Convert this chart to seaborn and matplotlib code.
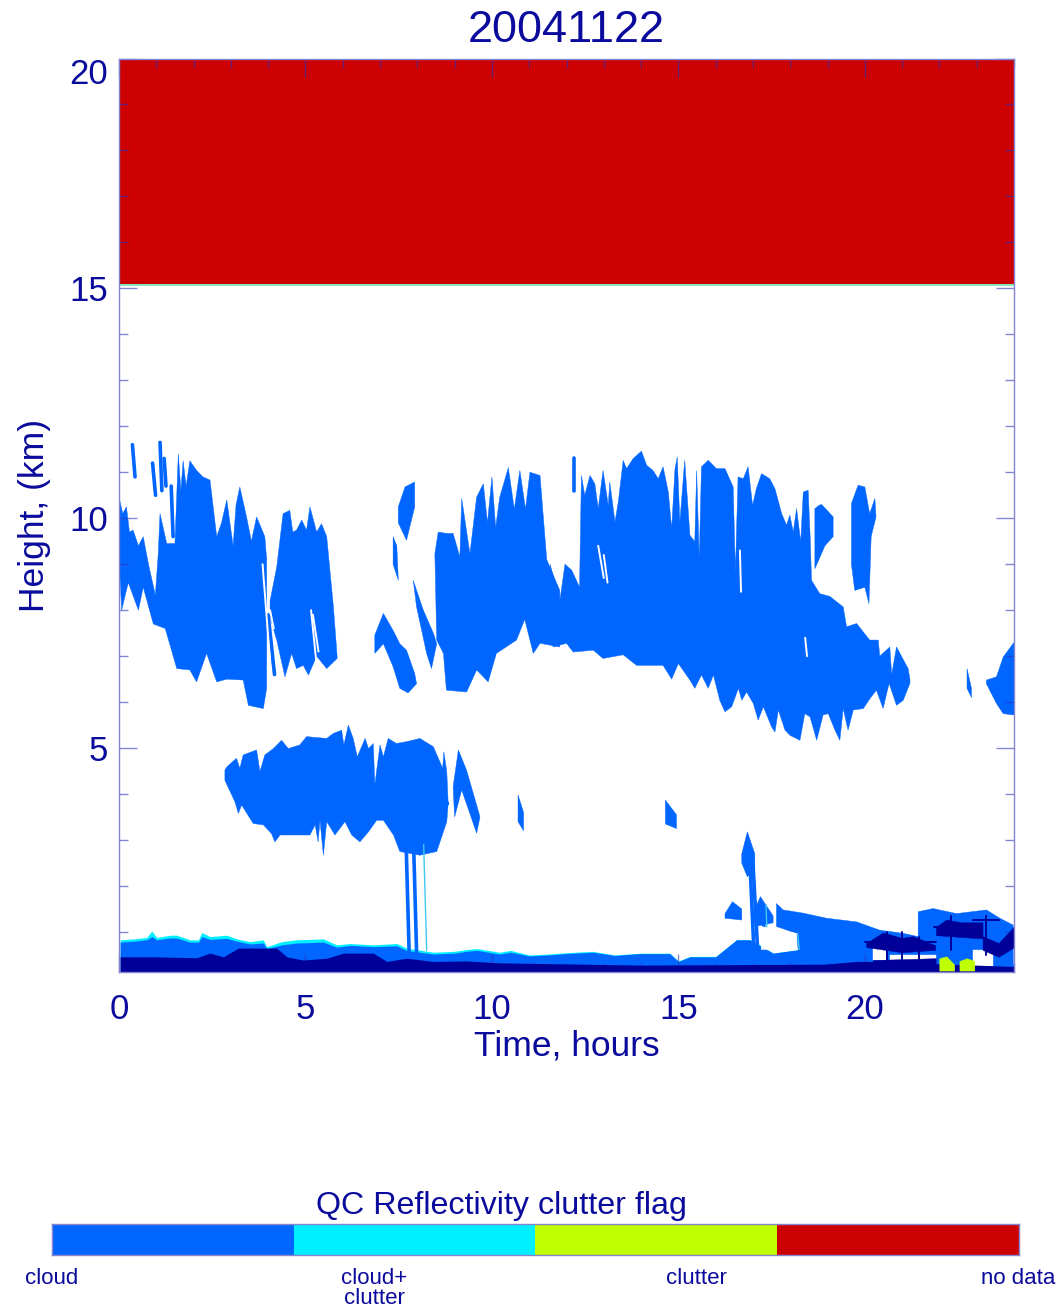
import numpy as np
import seaborn as sns
import matplotlib.pyplot as plt
from matplotlib.colors import ListedColormap

# flag legend
flag_names = ['cloud', 'cloud+\nclutter', 'clutter', 'no data']
flag_colors = ['#0066ff', '#00f0ff', '#c0ff00', '#cc0000']
flag_values = [[0, 1, 2, 3]]

x_ticks = [0, 5, 10, 15, 20]
y_ticks = [5, 10, 15, 20]
no_data_bottom = 15.1

# cloud outlines: time (h) and height (km), top edge then bottom edge
a_tt = [0.0, 0.1, 0.2, 0.28, 0.38, 0.52, 0.65, 0.79, 1.01]
a_ht = [10.46, 10.1, 10.25, 9.7, 9.74, 9.4, 9.6, 9.0, 8.2]
a_tb = [0.0, 0.07, 0.25, 0.52, 0.65, 0.92]
a_hb = [9.2, 8.0, 8.6, 8.0, 8.5, 7.7]

b_tt = [1.05, 1.1, 1.28, 1.5, 1.59, 1.66, 1.72, 1.8, 1.9, 2.08, 2.25, 2.44, 2.62, 2.75, 2.89, 3.06, 3.14, 3.24,
        3.42, 3.55, 3.69, 3.91, 3.96]
b_ht = [9.2, 10.1, 9.45, 9.45, 11.4, 10.6, 11.25, 10.7, 11.25, 11.04, 10.9, 10.83, 9.6, 9.9, 10.4, 9.4, 10.3, 10.68,
        10.03, 9.5, 10.03, 9.6, 9.1]
b_tb = [0.92, 1.24, 1.55, 1.9, 2.08, 2.35, 2.62, 2.89, 3.33, 3.47, 3.87, 3.96]
b_hb = [7.7, 7.6, 6.73, 6.7, 6.44, 7.06, 6.44, 6.5, 6.48, 5.93, 5.86, 6.3]

c_tt = [4.05, 4.23, 4.4, 4.58, 4.66, 4.76, 4.9, 5.03, 5.12, 5.3, 5.43, 5.57, 5.75, 5.85]
c_ht = [8.2, 8.94, 10.1, 10.17, 9.7, 9.74, 9.96, 9.74, 10.25, 9.7, 9.88, 9.6, 8.07, 7.0]
c_tb = [4.05, 4.23, 4.45, 4.63, 4.76, 4.94, 5.08, 5.3, 5.57, 5.85]
c_hb = [7.85, 7.35, 6.55, 7.06, 6.73, 6.8, 6.59, 7.0, 6.73, 6.95]

d_tt = [6.86, 7.09, 7.35, 7.53, 7.71, 7.93]
d_ht = [7.46, 7.93, 7.56, 7.27, 7.13, 6.62]
d_tb = [6.86, 7.09, 7.35, 7.53, 7.75, 7.98]
d_hb = [7.06, 7.27, 6.77, 6.3, 6.2, 6.4]

e_tt = [7.49, 7.67, 7.93]
e_ht = [10.25, 10.68, 10.79]
e_tb = [7.49, 7.71, 7.93]
e_hb = [9.9, 9.52, 10.25]

f_tt = [7.35, 7.45]
f_ht = [9.6, 9.4]
f_tb = [7.35, 7.49]
f_hb = [9.0, 8.65]

g_tt = [7.89, 8.16, 8.43]
g_ht = [8.65, 8.0, 7.5]
g_tb = [7.98, 8.25, 8.38, 8.52]
g_hb = [8.07, 7.06, 6.73, 7.27]

h_tt = [8.47, 8.56, 8.78, 8.96, 9.14, 9.19, 9.41, 9.59, 9.77, 9.88, 10.0, 10.1, 10.21, 10.44, 10.6, 10.75, 10.9,
        11.02, 11.29, 11.47, 11.82]
h_ht = [9.23, 9.7, 9.67, 9.67, 9.16, 10.43, 9.23, 10.46, 10.75, 9.9, 10.9, 9.8, 10.46, 11.1, 10.2, 11.04, 10.2,
        11.0, 10.93, 9.1, 8.43]
h_tb = [8.52, 8.7, 8.78, 9.32, 9.59, 9.9, 10.12, 10.66, 10.88, 11.11, 11.29, 11.82]
h_hb = [7.35, 7.06, 6.26, 6.22, 6.7, 6.44, 7.06, 7.35, 7.8, 7.06, 7.28, 7.2]

i_tt = [11.56, 11.82, 11.96, 12.14, 12.35, 12.4, 12.49, 12.63, 12.76, 12.85, 12.98, 13.12, 13.16, 13.3, 13.39,
        13.52, 13.61, 13.79, 14.01, 14.15, 14.32, 14.46, 14.59, 14.73, 14.82, 14.91, 14.97, 15.04, 15.17, 15.31,
        15.44, 15.49, 15.56, 15.62, 15.8, 16.02, 16.25, 16.47, 16.53, 16.6, 16.74, 16.87, 16.99, 17.09, 17.23,
        17.45, 17.59, 17.77, 17.9, 17.99, 18.08, 18.17, 18.28, 18.35, 18.48, 18.54, 18.57, 18.79, 19.06, 19.42,
        19.51, 19.78, 20.13, 20.36, 20.4, 20.67, 20.72, 20.85, 21.16, 21.21]
i_ht = [9.0, 8.2, 9.0, 8.87, 8.5, 10.93, 10.5, 10.93, 10.75, 10.21, 11.04, 10.28, 10.79, 9.92, 10.36,
        11.26, 11.08, 11.3, 11.46, 11.15, 11.04, 10.86, 11.12, 10.57, 9.78, 11.08, 11.33, 9.92, 11.26, 9.63,
        9.49, 11.04, 9.12, 11.12, 11.26, 11.08, 11.08, 10.68, 8.83, 10.9, 10.86, 11.12, 10.28, 10.64, 10.97,
        10.86, 10.64, 10.1, 9.85, 10.07, 9.7, 10.21, 9.49, 10.57, 10.61, 9.49, 8.65, 8.36, 8.3, 8.07,
        7.64, 7.71, 7.35, 7.35, 7.0, 7.2, 6.6, 7.2, 6.73, 6.5]
i_tb = [11.56, 11.64, 12.0, 12.18, 12.72, 12.98, 13.52, 13.88, 14.59, 14.82, 15.0, 15.31, 15.44, 15.62, 15.8, 15.94,
        16.11, 16.25, 16.43, 16.61, 16.7, 16.83, 17.01, 17.14, 17.28, 17.5, 17.59, 17.68, 17.86, 17.99, 18.26,
        18.39, 18.53, 18.71, 18.88, 19.02, 19.2, 19.33, 19.42, 19.55, 19.69, 19.96, 20.14, 20.31, 20.49, 20.65,
        20.85, 21.03, 21.21]
i_hb = [7.64, 7.2, 7.28, 7.09, 7.13, 6.95, 7.03, 6.8, 6.8, 6.5, 6.84, 6.48, 6.3, 6.59, 6.3, 6.59,
        6.04, 5.79, 5.9, 6.3, 6.04, 6.22, 5.97, 5.61, 5.9, 5.46, 5.35, 5.83, 5.39, 5.28, 5.17,
        5.75, 5.68, 5.17, 5.72, 5.75, 5.39, 5.17, 5.86, 5.39, 5.83, 5.86, 6.08, 6.26, 5.86, 6.41,
        5.93, 6.04, 6.41]

j_tt = [19.64, 19.82, 20.0, 20.13, 20.27]
j_ht = [10.32, 10.72, 10.68, 10.1, 10.43]
j_tb = [19.64, 19.73, 20.0, 20.11, 20.17, 20.3]
j_hb = [9.0, 8.43, 8.5, 8.14, 9.6, 10.03]

k_tt = [18.66, 18.77, 18.84, 19.15]
k_ht = [10.21, 10.28, 10.3, 10.03]
k_tb = [18.66, 18.93, 19.15]
k_hb = [8.9, 9.4, 9.6]

l_tt = [23.26, 23.53, 23.71, 24.0]
l_ht = [6.48, 6.55, 6.98, 7.3]
l_tb = [23.26, 23.53, 23.71, 24.0]
l_hb = [6.4, 5.97, 5.75, 5.72]

m_tt = [22.74, 22.86]
m_ht = [6.73, 6.3]
m_tb = [22.74, 22.86]
m_hb = [6.3, 6.1]

n_tt = [2.84, 2.89, 3.15, 3.24, 3.33, 3.69, 3.78, 3.91, 4.14, 4.36, 4.54, 4.85, 5.03, 5.57, 5.75, 5.97, 6.03, 6.15,
        6.28, 6.39, 6.6, 6.69, 6.82, 6.86, 7.0, 7.09, 7.22, 7.44, 7.71, 8.07, 8.43, 8.68, 8.71, 8.79, 8.83]
n_ht = [4.52, 4.59, 4.78, 4.56, 4.85, 4.96, 4.49, 4.85, 4.99, 5.17, 4.99, 5.07, 5.25, 5.21, 5.32, 5.39, 5.07, 5.5,
        5.21, 4.81, 5.21, 4.99, 5.1, 4.2, 5.07, 4.81, 5.21, 5.1, 5.14, 5.21, 5.03, 4.56, 4.92, 4.49, 3.76]
n_tb = [2.84, 3.11, 3.2, 3.29, 3.6, 3.87, 4.09, 4.18, 4.32, 5.12, 5.26, 5.34, 5.39, 5.48, 5.57, 5.79, 6.06, 6.24,
        6.46, 6.69, 6.91, 7.09, 7.36, 7.53, 8.07, 8.52, 8.79, 8.83]
n_hb = [4.3, 3.83, 3.58, 3.76, 3.36, 3.33, 3.14, 2.96, 3.11, 3.11, 3.33, 2.96, 3.43, 2.67, 3.4, 3.11, 3.4, 3.11,
        2.96, 3.18, 3.43, 3.43, 3.11, 2.75, 2.67, 2.75, 3.4, 3.83]

p_tt = [8.96, 9.1, 9.32, 9.63]
p_ht = [4.16, 4.96, 4.52, 3.65]
p_tb = [9.0, 9.19, 9.59, 9.68]
p_hb = [3.5, 4.09, 3.15, 3.5]

# low cloud, cyan rim then blue then dark band
low_t = [0.03, 0.39, 0.74, 0.88, 1.01, 1.37, 1.55, 1.9, 2.13, 2.22, 2.44, 2.89, 3.16, 3.51, 3.87, 3.96, 4.36, 4.76,
         5.48, 5.84, 6.2, 6.82, 7.45, 7.71, 8.43, 9.0, 9.32, 9.6, 10.2, 10.5, 11.0, 11.5, 12.0, 12.7, 13.3, 13.97,
         14.33, 14.77, 15.0, 15.31, 16.0, 16.56, 16.92, 17.19, 17.54, 18.17, 18.26, 24.0]
low_cyan = [0.83, 0.85, 0.88, 1.02, 0.88, 0.93, 0.93, 0.83, 0.83, 0.99, 0.9, 0.93, 0.85, 0.79, 0.83, 0.68, 0.79, 0.83,
            0.85, 0.72, 0.75, 0.72, 0.75, 0.65, 0.56, 0.58, 0.62, 0.64, 0.56, 0.6, 0.5, 0.52, 0.55, 0.58, 0.5, 0.54,
            0.54, 0.54, 0.37, 0.47, 0.47, 0.83, 0.83, 0.72, 0.54, 0.61, 0.61, 0.3]
low_blue = [0.78, 0.8, 0.83, 0.9, 0.83, 0.87, 0.87, 0.78, 0.78, 0.9, 0.84, 0.86, 0.8, 0.74, 0.76, 0.64, 0.72, 0.76,
            0.78, 0.67, 0.71, 0.68, 0.7, 0.6, 0.52, 0.54, 0.58, 0.6, 0.52, 0.56, 0.48, 0.5, 0.53, 0.56, 0.49, 0.53,
            0.53, 0.53, 0.36, 0.46, 0.46, 0.83, 0.83, 0.7, 0.54, 0.61, 0.61, 0.3]
dark_t = [0.03, 0.92, 2.08, 2.44, 2.8, 3.2, 4.23, 4.5, 4.94, 5.57, 6.02, 6.82, 7.18, 7.71, 8.43, 9.32, 10.2, 13.97,
          18.9, 19.78, 20.23, 24.0]
dark_h = [0.46, 0.46, 0.44, 0.54, 0.46, 0.65, 0.65, 0.46, 0.39, 0.43, 0.54, 0.54, 0.36, 0.43, 0.36, 0.37, 0.33, 0.28,
          0.3, 0.36, 0.36, 0.25]

r_tt = [17.63, 17.81, 18.35, 18.97, 19.78, 20.4, 21.03, 21.43]
r_ht = [1.62, 1.48, 1.41, 1.3, 1.22, 1.04, 0.97, 0.9]
r_tb = [17.63, 18.17, 18.26, 21.43]
r_hb = [1.12, 0.97, 0.2, 0.2]

s_tt = [21.43, 21.83, 22.46, 23.26, 23.62, 23.98]
s_ht = [1.44, 1.51, 1.4, 1.48, 1.3, 1.15]
s_tb = [21.43, 23.98]
s_hb = [0.2, 0.2]

u1_tt = [16.25, 16.45, 16.7]
u1_ht = [1.4, 1.66, 1.5]
u1_tb = [16.25, 16.7]
u1_hb = [1.3, 1.26]

u2_tt = [17.05, 17.2, 17.54]
u2_ht = [1.5, 1.77, 1.35]
u2_tb = [17.05, 17.54]
u2_hb = [1.12, 1.2]

v_tt = [16.7, 16.85, 17.05]
v_ht = [2.7, 3.18, 2.7]
v_tb = [16.7, 16.85, 17.05]
v_hb = [2.5, 2.2, 2.4]

w1_tt = [10.7, 10.85]
w1_ht = [3.98, 3.6]
w1_tb = [10.7, 10.85]
w1_hb = [3.4, 3.2]

w2_tt = [14.65, 14.95]
w2_ht = [3.87, 3.55]
w2_tb = [14.65, 14.95]
w2_hb = [3.35, 3.25]

# (t0, h0, t1, h1) thin streaks, read by eye
blue_t0 = [0.36, 0.9, 1.1, 1.21, 1.4, 4.0, 7.7, 7.9, 16.92, 17.0, 17.28, 12.2]
blue_h0 = [11.6, 11.2, 11.65, 11.3, 10.7, 7.9, 2.9, 2.9, 2.5, 2.5, 1.4, 11.3]
blue_t1 = [0.43, 0.98, 1.15, 1.26, 1.45, 4.17, 7.78, 7.98, 17.02, 17.12, 17.3, 12.2]
blue_h1 = [10.9, 10.5, 10.6, 10.7, 9.6, 6.6, 0.55, 0.55, 0.7, 0.7, 0.7, 10.6]
cyan_t0 = [8.17, 17.35, 18.2]
cyan_h0 = [2.9, 1.6, 0.97]
cyan_t1 = [8.25, 17.38, 18.24]
cyan_h1 = [0.6, 0.9, 0.62]
white_t0 = [3.85, 4.05, 5.2, 5.15, 18.4, 12.85, 13.0, 16.65]
white_h0 = [9.0, 8.0, 7.9, 8.0, 7.4, 9.4, 9.2, 9.3]
white_t1 = [4.05, 4.15, 5.35, 5.3, 18.45, 13.0, 13.1, 16.68]
white_h1 = [6.9, 7.6, 7.1, 6.8, 7.0, 8.7, 8.6, 8.4]

# white windows in the low cloud
win_tt = [[17.22, 18.17], [20.23, 20.58], [20.67, 21.92], [22.91, 23.44]]
win_ht = [[1.12, 0.97], [0.68, 0.68], [0.5, 0.5], [0.6, 0.6]]
win_tb = [[17.22, 18.17], [20.23, 20.58], [20.67, 21.92], [22.91, 23.44]]
win_hb = [[0.62, 0.62], [0.4, 0.4], [0.2, 0.2], [0.25, 0.25]]

# clutter patches
lime_tt = [[22.01, 22.2, 22.41], [22.55, 22.75, 22.95]]
lime_ht = [[0.42, 0.46, 0.28], [0.36, 0.42, 0.36]]
lime_tb = [[22.01, 22.41], [22.55, 22.95]]
lime_hb = [[0.15, 0.15], [0.15, 0.15]]

# dark blobs near the ground, late in the day
navy_tt = [[20.05, 20.5, 21.0, 21.3, 21.9], [21.92, 22.2, 22.6, 23.17], [23.17, 23.6, 24.0], [20.23, 21.92]]
navy_ht = [[0.75, 0.98, 0.86, 0.9, 0.7], [1.1, 1.26, 1.2, 1.2], [0.9, 0.75, 1.1], [0.38, 0.42]]
navy_tb = [[20.05, 21.0, 21.9], [21.92, 22.6, 23.17], [23.17, 23.6, 24.0], [20.23, 21.92]]
navy_hb = [[0.66, 0.55, 0.6], [0.92, 0.88, 0.85], [0.6, 0.45, 0.65], [0.14, 0.14]]
cross_t0 = [20.0, 20.6, 21.0, 21.45, 22.3, 23.25, 21.85, 22.9]
cross_h0 = [0.78, 1.0, 1.0, 0.9, 1.35, 1.35, 1.1, 1.27]
cross_t1 = [21.9, 20.6, 21.0, 21.45, 22.3, 23.25, 22.5, 23.6]
cross_h1 = [0.78, 0.3, 0.3, 0.2, 0.6, 0.5, 1.1, 1.27]

blue_clouds = [
    (a_tt, a_ht, a_tb, a_hb), (b_tt, b_ht, b_tb, b_hb), (c_tt, c_ht, c_tb, c_hb),
    (d_tt, d_ht, d_tb, d_hb), (e_tt, e_ht, e_tb, e_hb), (f_tt, f_ht, f_tb, f_hb),
    (g_tt, g_ht, g_tb, g_hb), (h_tt, h_ht, h_tb, h_hb), (i_tt, i_ht, i_tb, i_hb),
    (j_tt, j_ht, j_tb, j_hb), (k_tt, k_ht, k_tb, k_hb), (l_tt, l_ht, l_tb, l_hb),
    (m_tt, m_ht, m_tb, m_hb), (n_tt, n_ht, n_tb, n_hb), (p_tt, p_ht, p_tb, p_hb),
    (r_tt, r_ht, r_tb, r_hb), (s_tt, s_ht, s_tb, s_hb), (u1_tt, u1_ht, u1_tb, u1_hb),
    (u2_tt, u2_ht, u2_tb, u2_hb), (v_tt, v_ht, v_tb, v_hb), (w1_tt, w1_ht, w1_tb, w1_hb),
    (w2_tt, w2_ht, w2_tb, w2_hb),
]

sns.set_style('white')
plt.rcParams['font.family'] = ['Liberation Sans', 'DejaVu Sans']

W, H = 1060, 1307
text_color = '#0a0a9c'
frame_color = '#8484d0'
tick_color = (0.2, 0.2, 0.75, 0.6)
navy = '#000099'

fig = plt.figure(figsize=(W / 100, H / 100), dpi=100)
ax = fig.add_axes([119 / W, 1 - 972 / H, 895 / W, 913.5 / H])


def outline(tt, ht, tb, hb, color, z=2):
    ax.fill(list(tt) + list(tb)[::-1], list(ht) + list(hb)[::-1], color=color, lw=0.3, zorder=z)


ax.fill_between([0, 24], no_data_bottom, 20, color=flag_colors[3], lw=0, zorder=2)
ax.plot([0, 24], [no_data_bottom - 0.02] * 2, color='#70e0b0', lw=1.2, zorder=2)

ax.fill_between(low_t, 0.13, low_cyan, color=flag_colors[1], lw=0, zorder=2)
ax.fill_between(low_t, 0.13, low_blue, color=flag_colors[0], lw=0, zorder=2)
for cloud in blue_clouds:
    outline(*cloud, flag_colors[0])
for t0, h0, t1, h1 in zip(blue_t0, blue_h0, blue_t1, blue_h1):
    ax.plot([t0, t1], [h0, h1], color=flag_colors[0], lw=2.6, zorder=2)
for t0, h0, t1, h1 in zip(cyan_t0, cyan_h0, cyan_t1, cyan_h1):
    ax.plot([t0, t1], [h0, h1], color='#40c8f0', lw=1.0, zorder=2)
for t0, h0, t1, h1 in zip(white_t0, white_h0, white_t1, white_h1):
    ax.plot([t0, t1], [h0, h1], color='white', lw=1.4, zorder=3)
for tt, ht, tb, hb in zip(win_tt, win_ht, win_tb, win_hb):
    outline(tt, ht, tb, hb, 'white', 3)
ax.fill_between(dark_t, 0.13, dark_h, color=navy, lw=0, zorder=4)
for tt, ht, tb, hb in zip(lime_tt, lime_ht, lime_tb, lime_hb):
    outline(tt, ht, tb, hb, flag_colors[2], 5)
for tt, ht, tb, hb in zip(navy_tt, navy_ht, navy_tb, navy_hb):
    outline(tt, ht, tb, hb, navy, 5)
for t0, h0, t1, h1 in zip(cross_t0, cross_h0, cross_t1, cross_h1):
    ax.plot([t0, t1], [h0, h1], color=navy, lw=1.4, zorder=5)

ax.set_xlim(0, 24)
ax.set_ylim(0.13, 20)
ax.set_xticks(x_ticks)
ax.set_yticks(y_ticks)
ax.set_xticks(range(25), minor=True)
ax.set_yticks(range(1, 21), minor=True)
ax.set_axisbelow(False)
ax.tick_params(which='major', direction='in', length=13, width=1, color=tick_color,
               top=True, bottom=True, left=True, right=True, labelsize=25,
               labelcolor=text_color)
ax.tick_params(which='minor', direction='in', length=6.5, width=1, color=tick_color,
               top=True, bottom=True, left=True, right=True)
ax.tick_params(axis='x', which='major', pad=15)
ax.tick_params(axis='y', which='major', pad=8)
ax.get_yticklabels()[-1].set_va('top')
for spine in ax.spines.values():
    spine.set_color(frame_color)
    spine.set_linewidth(1)
    spine.set_visible(True)
    spine.set_zorder(6)

ax.set_xlabel('Time, hours', fontsize=25.5, color=text_color, labelpad=3)
ax.set_ylabel('Height, (km)', fontsize=25.5, color=text_color, labelpad=13)
ax.set_title('20041122', fontsize=32.5, color=text_color, pad=12)

# flag bar
cax = fig.add_axes([52 / W, 1 - 1255 / H, 966.5 / W, 31 / H])
sns.heatmap(flag_values, ax=cax, cmap=ListedColormap(flag_colors), cbar=False,
            xticklabels=False, yticklabels=False, vmin=-0.5, vmax=3.5)
for spine in cax.spines.values():
    spine.set_visible(True)
    spine.set_color(frame_color)
    spine.set_linewidth(1)
cax.set_title('QC Reflectivity clutter flag', fontsize=23.2, color=text_color, pad=7, x=0.4646)

# labels sit at even steps from bar start to bar end
for i, name in enumerate(flag_names):
    cax.text(i * 4 / 3, 1.42, name, ha='center', va='top',
             fontsize=16, color=text_color, linespacing=0.95, clip_on=False)

fig.savefig('out.png', dpi=100)
